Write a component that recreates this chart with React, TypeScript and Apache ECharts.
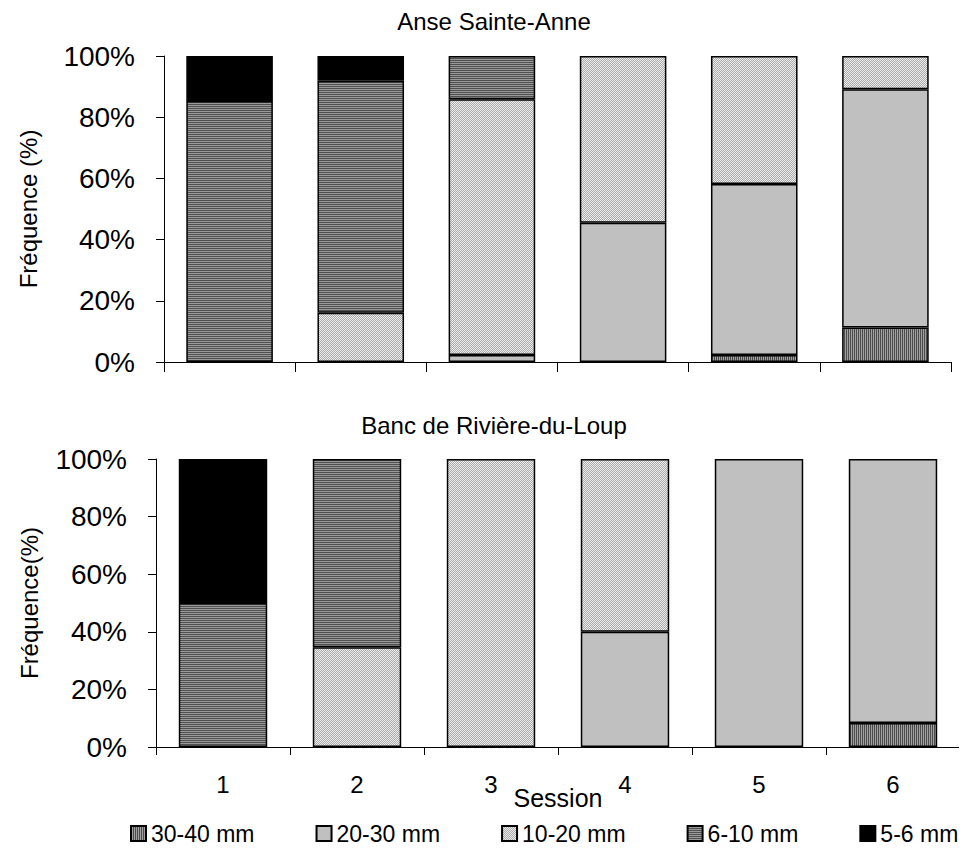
import React, { useEffect, useRef } from 'react';
import * as echarts from 'echarts';

// Categories
const sessions = ['1', '2', '3', '4', '5', '6'];
const sizeClasses = ['30-40 mm', '20-30 mm', '10-20 mm', '6-10 mm', '5-6 mm'];
const chartTitles = ['Anse Sainte-Anne', 'Banc de Rivière-du-Loup'];
const yAxisNames = ['Fréquence (%)', 'Fréquence(%)'];

// Anse Sainte-Anne (% per session)
const anse30_40 = [0, 0, 0, 0, 2.3, 11.3];
const anse20_30 = [0, 0, 2.3, 45.5, 55.9, 77.8];
const anse10_20 = [0, 16.1, 83.6, 54.5, 41.8, 10.9];
const anse6_10 = [85.3, 75.8, 14.1, 0, 0, 0];
const anse5_6 = [14.7, 8.1, 0, 0, 0, 0];

// Banc de Rivière-du-Loup (% per session)
const banc30_40 = [0, 0, 0, 0, 0, 8.3];
const banc20_30 = [0, 0, 0, 40, 100, 91.7];
const banc10_20 = [0, 34.6, 100, 60, 0, 0];
const banc6_10 = [50, 65.4, 0, 0, 0, 0];
const banc5_6 = [50, 0, 0, 0, 0, 0];

const FONT = '"Liberation Sans", Arial, Helvetica, sans-serif';

function makePattern(kind: string): any {
  const c = document.createElement('canvas');
  c.width = 2;
  c.height = 2;
  const ctx = c.getContext('2d')!;
  const px = (x: number, y: number, col: string) => {
    ctx.fillStyle = col;
    ctx.fillRect(x, y, 1, 1);
  };
  if (kind === 'vert') {
    px(0, 0, '#4c4c4c'); px(0, 1, '#4c4c4c');
    px(1, 0, '#a0a0a0'); px(1, 1, '#a0a0a0');
  } else if (kind === 'horiz') {
    px(0, 0, '#505050'); px(1, 0, '#505050');
    px(0, 1, '#9a9a9a'); px(1, 1, '#9a9a9a');
  } else {
    px(0, 0, '#ececec'); px(1, 1, '#ececec');
    px(1, 0, '#ababab'); px(0, 1, '#ababab');
  }
  return { image: c, repeat: 'repeat', imageWidth: 2, imageHeight: 2 };
}

export default function App() {
  const ref = useRef<HTMLDivElement>(null);
  useEffect(() => {
    if (!ref.current) return;
    const chart = echarts.init(ref.current, undefined, { renderer: 'svg' });
    const fills = [
      makePattern('vert'),
      '#c0c0c0',
      makePattern('dots'),
      makePattern('horiz'),
      '#000000',
    ];
    const datasets = [
      [anse30_40, anse20_30, anse10_20, anse6_10, anse5_6],
      [banc30_40, banc20_30, banc10_20, banc6_10, banc5_6],
    ];
    const series: any[] = [];
    datasets.forEach((set, gi) => {
      set.forEach((vals, si) => {
        series.push({
          type: 'bar',
          name: sizeClasses[si],
          xAxisIndex: gi,
          yAxisIndex: gi,
          stack: 'chart' + gi,
          barWidth: '66%',
          data: vals.map((v) => (v === 0 ? null : v)),
          itemStyle: { color: fills[si], borderColor: '#000', borderWidth: 1.5 },
          emphasis: { disabled: true },
        });
      });
    });
    const axisLine = { show: true, lineStyle: { color: '#000', width: 1 } };
    const option: any = {
      animation: false,
      textStyle: { fontFamily: FONT },
      grid: [
        { left: 148, top: 48, width: 795, height: 306 },
        { left: 148, top: 451, width: 804, height: 288 },
      ],
      xAxis: [
        {
          gridIndex: 0,
          type: 'category',
          data: sessions,
          axisLine,
          axisTick: { show: true, length: 10, lineStyle: { color: '#000' } },
          axisLabel: { show: false },
        },
        {
          gridIndex: 1,
          type: 'category',
          data: sessions,
          axisLine,
          axisTick: { show: true, length: 8, lineStyle: { color: '#000' } },
          axisLabel: { fontSize: 24, color: '#000', margin: 25, fontFamily: FONT },
          name: 'Session',
          nameLocation: 'middle',
          nameGap: 38,
          nameMoveOverlap: false,
          nameTextStyle: { fontSize: 25, color: '#000', fontFamily: FONT },
        },
      ],
      yAxis: [0, 1].map((gi) => ({
        gridIndex: gi,
        type: 'value',
        min: 0,
        max: 100,
        interval: 20,
        axisLine,
        axisTick: { show: true, length: 8, lineStyle: { color: '#000' } },
        splitLine: { show: false },
        axisLabel: { formatter: '{value}%', fontSize: 28, color: '#000', margin: 29, fontFamily: FONT },
        name: yAxisNames[gi],
        nameLocation: 'middle',
        nameGap: gi === 0 ? 124 : 115,
        nameMoveOverlap: false,
        nameTextStyle: { fontSize: 24, color: '#000', fontFamily: FONT },
      })),
      legend: {
        data: sizeClasses,
        left: 122,
        top: 814,
        padding: 0,
        itemWidth: 15,
        itemHeight: 15,
        itemGap: 61,
        icon: 'rect',
        textStyle: { fontSize: 23, color: '#000', fontFamily: FONT },
      },
      graphic: [
        {
          type: 'text',
          x: 486,
          y: 1,
          style: { text: chartTitles[0], fontSize: 24, fontFamily: FONT, fill: '#000', textAlign: 'center', textVerticalAlign: 'top' },
        },
        {
          type: 'text',
          x: 486,
          y: 405,
          style: { text: chartTitles[1], fontSize: 24, fontFamily: FONT, fill: '#000', textAlign: 'center', textVerticalAlign: 'top' },
        },
      ],
      series,
    };
    chart.setOption(option);
    return () => chart.dispose();
  }, []);
  return <div ref={ref} style={{ width: 959, height: 844 }} />;
}
